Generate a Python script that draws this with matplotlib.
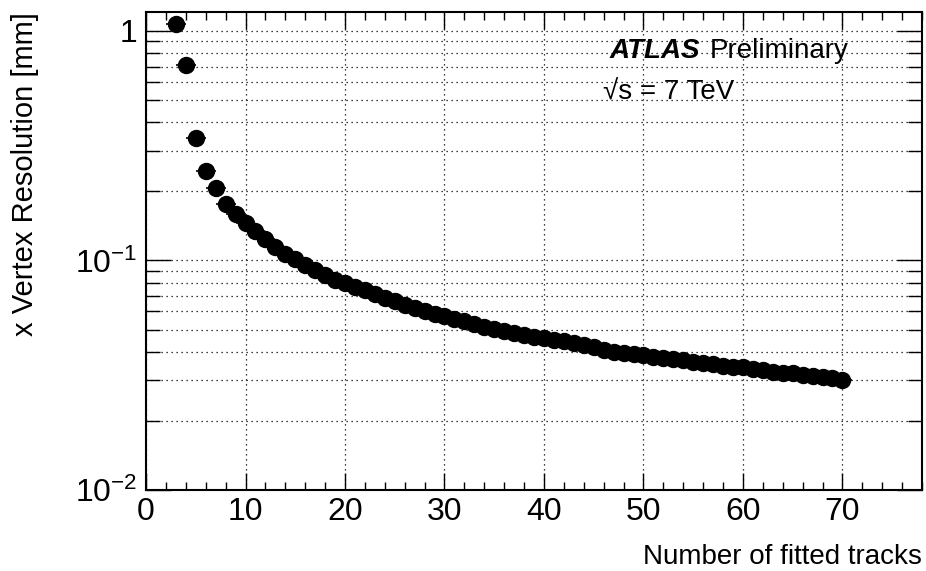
import matplotlib
matplotlib.use("Agg")
import matplotlib.pyplot as plt
from matplotlib.ticker import FixedLocator, FixedFormatter, LogLocator, MultipleLocator, NullFormatter
import numpy as np

plt.rcParams['font.family'] = ['Liberation Sans', 'DejaVu Sans']
plt.rcParams['mathtext.fontset'] = 'custom'
plt.rcParams['mathtext.rm'] = 'Liberation Sans'
plt.rcParams['mathtext.it'] = 'Liberation Sans:italic'
plt.rcParams['mathtext.bf'] = 'Liberation Sans:bold'

n_tracks = list(range(3, 71))
resolution = [1.073, 0.710, 0.343, 0.245, 0.207, 0.177, 0.159, 0.1456, 0.134, 0.1236,
              0.114, 0.107, 0.101, 0.0951, 0.091, 0.0867, 0.0826, 0.0794, 0.0767, 0.0740,
              0.0713, 0.0687, 0.0664, 0.0640, 0.0619, 0.0603, 0.0585, 0.0571, 0.0556, 0.0543,
              0.0529, 0.0515, 0.0504, 0.0491, 0.0482, 0.0474, 0.0466, 0.0459, 0.0450, 0.0444,
              0.0436, 0.0430, 0.0419, 0.0407, 0.0401, 0.0395, 0.0391, 0.0387, 0.0381, 0.0376,
              0.0372, 0.0368, 0.0362, 0.0357, 0.0353, 0.0347, 0.0344, 0.0342, 0.0336, 0.0333,
              0.0328, 0.0325, 0.0323, 0.0318, 0.0315, 0.0311, 0.0307, 0.0301]
x_halfwidth = 1.0

x_ticks = [0, 10, 20, 30, 40, 50, 60, 70]
y_ticks = [0.01, 0.1, 1.0]
y_tick_labels = ['$10^{\\mathdefault{-2}}$', '$10^{\\mathdefault{-1}}$', '1']

W, H = 926, 571
fig = plt.figure(figsize=(W / 100, H / 100), dpi=100)
ax = fig.add_axes([0.1577, 0.1419, 0.8380, 0.8371])
ax.set_yscale('log')
ax.set_xlim(0, 78)
ax.set_ylim(0.01, 1.21)

ax.errorbar(n_tracks, resolution, xerr=x_halfwidth, fmt='o', color='black',
            ms=11.5, elinewidth=1.2, capsize=0, zorder=3)

ax.xaxis.set_major_locator(FixedLocator(x_ticks))
ax.xaxis.set_minor_locator(MultipleLocator(2))
ax.yaxis.set_major_locator(FixedLocator(y_ticks))
ax.yaxis.set_major_formatter(FixedFormatter(y_tick_labels))
ax.yaxis.set_minor_locator(LogLocator(base=10, subs=np.arange(2, 10)))
ax.yaxis.set_minor_formatter(NullFormatter())

ax.grid(True, which='major', axis='x', color='black', linestyle=(0, (1, 3)), linewidth=0.9)
ax.grid(True, which='both', axis='y', color='black', linestyle=(0, (1, 3)), linewidth=0.9)
ax.set_axisbelow(True)

ax.tick_params(axis='x', which='major', direction='in', length=12, width=1, top=True, bottom=True,
               labelsize=23, pad=5)
ax.tick_params(axis='x', which='minor', direction='in', length=6, width=1, top=True, bottom=True)
ax.tick_params(axis='y', which='major', direction='in', length=18, width=1, left=True, right=True,
               labelsize=23, pad=6)
ax.tick_params(axis='y', which='minor', direction='in', length=10, width=1, left=True, right=True)
for s in ax.spines.values():
    s.set_linewidth(1.5)

ax.set_xlabel('Number of fitted tracks', fontsize=20, loc='right', labelpad=12)
ax.set_ylabel('x Vertex Resolution [mm]', fontsize=21, loc='top', labelpad=26)

fig.text(610 / W, 1 - 58 / H, 'ATLAS', fontsize=20, fontweight='bold',
         fontstyle='italic', va='baseline', ha='left')
fig.text(710 / W, 1 - 58 / H, 'Preliminary', fontsize=20, va='baseline', ha='left')
fig.text(603 / W, 1 - 100 / H, '\u221As = 7 TeV', fontsize=20, va='baseline', ha='left')

fig.savefig('out.png', dpi=100)
